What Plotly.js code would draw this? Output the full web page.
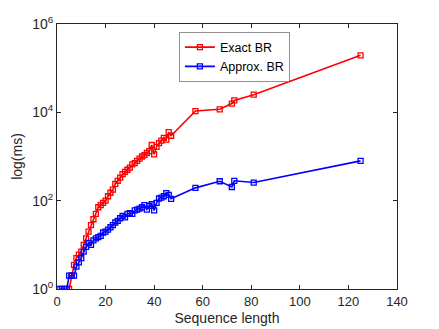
<!DOCTYPE html>
<html>
<head>
<meta charset="utf-8">
<script src="https://cdn.plot.ly/plotly-3.0.1.min.js"></script>
<style>
  body { margin: 0; background: #fff; }
  #chart { width: 439px; height: 329px; }
</style>
</head>
<body>
<div id="chart"></div>
<script>
// Exact BR timings
var exactX = [5, 6, 7, 8, 9, 10, 11, 12, 13, 14, 15, 16, 17, 18, 19, 20, 21, 22, 23, 24, 25, 26,
    27, 28, 29, 30, 31, 32, 33, 34, 35, 36, 37, 38, 39, 40, 41, 42, 43, 44, 45, 46, 47,
    57, 67, 72, 73, 81, 125];
var exactY = [1, 2, 3.5, 5, 6, 7, 10, 14, 20, 28, 38, 50, 71, 79, 89, 100, 126, 151, 178, 240, 282, 331,
    398, 447, 501, 562, 661, 708, 794, 891, 1000, 1070, 1200, 1320, 1820, 1120, 1660, 2000, 2290, 2630, 2400, 3550, 2950,
    10700, 11700, 15800, 18600, 25100, 195000];

// Approx. BR timings
var approxX = [1, 2, 3, 4, 5, 6, 7, 8, 9, 10, 11, 12, 13, 14, 15, 16, 17, 18, 19, 20, 21, 22, 23, 24,
    25, 26, 27, 28, 29, 30, 31, 32, 33, 34, 35, 36, 37, 38, 39, 40, 41, 42, 43, 44, 45, 46, 47,
    57, 67, 72, 73, 81, 125];
var approxY = [1, 1, 1, 1, 2, 2, 2, 3.2, 4, 5, 7, 9, 11, 10, 12.6, 14, 15, 16, 19, 20, 22, 25, 28, 32,
    35, 40, 45, 42, 50, 52, 50, 60, 63, 66, 71, 79, 63, 76, 83, 60, 89, 112, 117, 126, 148, 135, 110,
    195, 275, 204, 282, 257, 795];

var xTicks = [0, 20, 40, 60, 80, 100, 120, 140];
var yTicks = [1, 100, 10000, 1000000];
var yTickText = ["10<sup>0</sup>", "10<sup>2</sup>", "10<sup>4</sup>", "10<sup>6</sup>"];

var exactTrace = {
    x: exactX,
    y: exactY,
    mode: "lines+markers",
    name: "Exact BR",
    line: { color: "#ff0000", width: 1.6 },
    marker: { symbol: "square-open", size: 5, color: "#ff0000", line: { width: 1.3 } },
};

var approxTrace = {
    x: approxX,
    y: approxY,
    mode: "lines+markers",
    name: "Approx. BR",
    line: { color: "#0000ff", width: 1.6 },
    marker: { symbol: "square-open", size: 5, color: "#0000ff", line: { width: 1.3 } },
};

var axisFont = { family: "Liberation Sans, Arial, sans-serif", size: 13, color: "#262626" };

var layout = {
    width: 439,
    height: 329,
    margin: { l: 57, r: 42, t: 24, b: 40, pad: 0 },
    paper_bgcolor: "#ffffff",
    plot_bgcolor: "#ffffff",
    font: axisFont,
    showlegend: true,
    xaxis: {
        range: [0, 140],
        tickvals: xTicks,
        ticks: "inside",
        ticklen: 4,
        tickcolor: "#262626",
        showgrid: false,
        zeroline: false,
        showline: true,
        mirror: "ticks",
        linecolor: "#262626",
        linewidth: 1,
        tickfont: axisFont,
        title: { text: "Sequence length", font: { family: axisFont.family, size: 14, color: "#262626" }, standoff: 5 },
    },
    yaxis: {
        type: "log",
        range: [0, 6],
        tickvals: yTicks,
        ticktext: yTickText,
        ticks: "inside",
        ticklen: 4,
        tickcolor: "#262626",
        showgrid: false,
        zeroline: false,
        showline: true,
        mirror: "ticks",
        linecolor: "#262626",
        linewidth: 1,
        tickfont: { family: axisFont.family, size: 14, color: "#262626" },
        title: { text: "log(ms)", font: { family: axisFont.family, size: 14, color: "#262626" }, standoff: 6 },
    },
    legend: {
        x: 0.36,
        y: 0.97,
        xanchor: "left",
        yanchor: "top",
        bgcolor: "#ffffff",
        bordercolor: "#262626",
        borderwidth: 0.5,
        font: { family: axisFont.family, size: 12.5, color: "#000000" },
        itemwidth: 30,
        tracegroupgap: 0,
    },
};

Plotly.newPlot("chart", [exactTrace, approxTrace], layout, { displayModeBar: false, staticPlot: true });
</script>
</body>
</html>
